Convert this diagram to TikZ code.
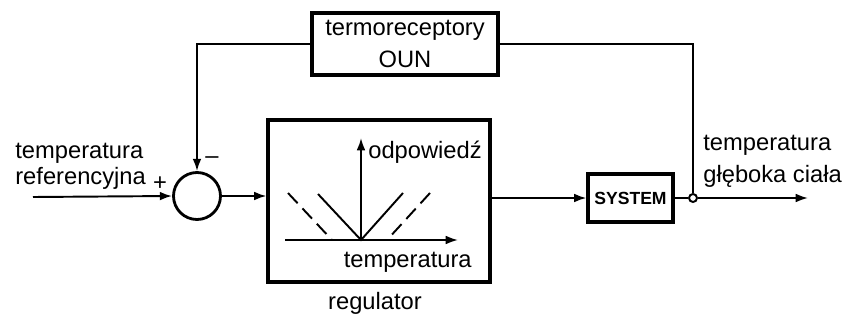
\documentclass[tikz,border=0pt]{standalone}
\usepackage{fontspec}
\setmainfont{Liberation Sans}
\usetikzlibrary{arrows.meta,positioning}

\begin{document}
\begin{tikzpicture}[x=0.02cm, y=-0.02cm,
    blok/.style={draw, line width=1.8pt, inner sep=0pt},
    linia/.style={line width=1.1pt},
    strz/.style={linia, -{Latex[length=7pt,width=5pt]}},
    opis/.style={font=\fontsize{13.5}{15}\selectfont, inner sep=0pt}]
    \useasboundingbox (0,0) rectangle (862,321);

    % bloki
    \node[blok, circle, line width=1.6pt, minimum size=0.94cm] (suma) at (197,196) {};
    \node[blok, minimum width=4.44cm, minimum height=3.24cm] (reg) at (379,201) {};
    \node[blok, minimum width=1.7cm, minimum height=0.96cm, font=\bfseries\fontsize{10}{12}\selectfont] (sys) at (630.5,198) {SYSTEM};
    \node[blok, minimum width=3.72cm, minimum height=1.24cm, align=center, font=\fontsize{13.5}{18}\selectfont] (rec) at (405,44) {termoreceptory\\OUN};
    \node[draw, circle, line width=1.1pt, minimum size=0.16cm, inner sep=0pt, fill=white] (wez) at (693,198) {};
    \coordinate (we) at (33,197);
    \coordinate (wy) at (808,198);

    % polaczenia
    \draw[strz] (we) -- (suma.west);
    \draw[strz] (suma.east) -- (reg.west |- suma.east);
    \draw[strz] (reg.east |- sys.west) -- (sys.west);
    \draw[linia] (sys.east) -- (wez.west);
    \draw[strz] (wez.east) -- (wy);
    \draw[linia] (wez.north) |- (rec.east);
    \draw[strz] (rec.west) -| (suma.north);

    % charakterystyka regulatora
    \draw[strz] (361,240) -- (361,138);
    \draw[strz] (285,240) -- (458,240);
    \draw[linia] (318,194) -- (361,240) -- (403,193);
    \draw[linia, dash pattern=on 8pt off 4pt] (288,193) -- (332,240);
    \draw[linia, dash pattern=on 8pt off 4pt] (430,193) -- (387,240);

    % opisy
    \node[opis, anchor=west, align=left] (tref) at (15,166) {temperatura\\referencyjna};
    \node[opis] (plus) at (160,184) {+};
    \node[opis] (minus) at (212,160) {–};
    \node[opis, anchor=west, align=left, font=\fontsize{13.5}{18}\selectfont] (tcia) at (703,161) {temperatura\\głęboka ciała};
    \node[opis, anchor=west] (odp) at (368,152) {odpowiedź};
    \node[opis, anchor=east] (ttemp) at (472,262) {temperatura};
    \node[opis] (treg) at (375,303) {regulator};
\end{tikzpicture}
\end{document}
